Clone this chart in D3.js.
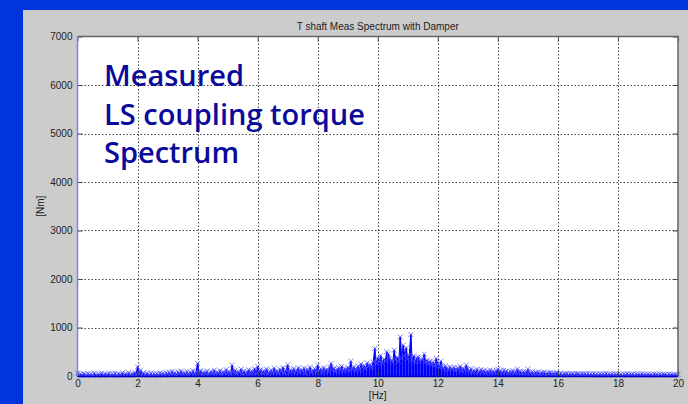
<!DOCTYPE html>
<html>
<head>
<meta charset="utf-8">
<script src="https://cdn.jsdelivr.net/npm/d3@7"></script>
<style>
  body { margin: 0; background: #0035dd; }
  svg { display: block; }
</style>
</head>
<body>
<svg></svg>
<script>
// chart size
const width = 688,
      height = 404;

// spectrum, one row per Hz, 0.05 Hz step
const freqStep = 0.05;
const torque = [
  60,20,45,10,55,30,15,50,25,40,12,58,35,18,48,22,62,8,44,28,        // 0-1
  30,55,15,48,25,60,12,42,35,20,65,18,50,28,70,10,45,38,80,25,       // 1-2
  190,60,120,35,70,20,55,40,25,60,15,50,30,45,20,65,35,55,25,70,     // 2-3
  40,80,30,95,45,70,20,85,50,100,35,75,40,90,25,80,55,110,45,90,     // 3-4
  260,70,110,40,85,60,100,30,75,95,50,120,40,85,65,110,35,90,70,130, // 4-5
  60,100,45,225,80,120,50,95,70,140,40,105,65,85,130,55,110,75,150,60, // 5-6
  200,90,130,60,115,80,145,50,100,125,70,160,85,110,55,140,95,175,65,120, // 6-7
  230,80,130,95,150,60,120,170,75,135,100,160,55,140,115,180,70,125,150,90, // 7-8
  225,110,150,80,170,120,140,95,185,260,130,160,90,145,175,115,200,105,155,130, // 8-9
  180,120,307,140,190,110,165,210,130,250,180,220,150,270,200,240,180,290,567,260, // 9-10
  380,300,420,260,350,310,500,465,360,330,280,533,340,390,300,806,370,636,420,580, // 10-11
  350,430,855,320,416,290,380,396,300,340,350,451,280,330,260,310,240,290,220,363, // 11-12
  250,180,307,200,150,210,170,130,190,160,140,180,120,170,150,200,110,160,130,225, // 12-13
  140,100,150,80,120,95,140,70,110,130,85,120,60,105,90,125,70,100,80,115, // 13-14
  144,90,110,70,120,85,100,65,95,80,110,70,85,144,75,100,60,90,70,85,  // 14-15
  144,80,60,90,50,75,65,85,45,70,60,80,40,65,55,75,45,60,50,70,      // 15-16
  55,35,60,30,50,40,55,25,45,35,50,30,55,40,45,25,50,35,45,30,       // 16-17
  50,28,45,20,52,30,40,18,48,25,42,30,55,22,38,28,46,20,40,32,       // 17-18
  45,25,38,15,42,28,50,20,35,30,44,18,40,26,36,22,48,24,38,20,       // 18-19
  40,22,35,15,45,25,32,18,42,20,38,28,30,16,40,24,34,20,36,18,       // 19-20
  30
];

const xTicks = [0, 2, 4, 6, 8, 10, 12, 14, 16, 18, 20],
      yTicks = [0, 1000, 2000, 3000, 4000, 5000, 6000, 7000];

const titleText = 'T shaft Meas Spectrum with Damper',
      xLabel = '[Hz]',
      yLabel = '[Nm]',
      overlayLines = ['Measured', 'LS coupling torque', 'Spectrum'];

const data = torque.map((v, i) => ({ f: i * freqStep, v: v }));

const svg = d3.select('svg')
              .attr('width', width)
              .attr('height', height);

// matlab figure background
svg.append('rect')
   .attr('x', 23).attr('y', 10)
   .attr('width', width - 23).attr('height', height - 10)
   .attr('fill', '#cccccc');

const xscale = d3.scaleLinear().domain([0, 20]).range([77.5, 678]);
const yscale = d3.scaleLinear().domain([0, 7000]).range([376, 36.5]);

// plot area
svg.append('rect')
   .attr('x', xscale(0)).attr('y', yscale(7000))
   .attr('width', xscale(20) - xscale(0))
   .attr('height', yscale(0) - yscale(7000))
   .attr('fill', '#ffffff');

// grid
const grid = svg.append('g').attr('id', 'grid')
                .attr('stroke', '#444').attr('stroke-width', 1)
                .attr('stroke-dasharray', '1.5,2');
grid.selectAll('.vgrid')
    .data(xTicks.slice(1, -1))
    .enter().append('line')
    .attr('x1', d => Math.round(xscale(d)) + 0.5)
    .attr('x2', d => Math.round(xscale(d)) + 0.5)
    .attr('y1', yscale(7000)).attr('y2', yscale(0));
grid.selectAll('.hgrid')
    .data(yTicks.slice(1, -1))
    .enter().append('line')
    .attr('y1', d => Math.round(yscale(d)) + 0.5)
    .attr('y2', d => Math.round(yscale(d)) + 0.5)
    .attr('x1', xscale(0)).attr('x2', xscale(20));

// big overlay text
const overlay = svg.append('text')
   .attr('font-family', '"Open Sans", sans-serif')
   .attr('font-weight', 600)
   .attr('font-size', '29px')
   .attr('fill', '#0a0a9a');
overlay.selectAll('tspan')
   .data(overlayLines)
   .enter().append('tspan')
   .attr('x', 104)
   .attr('y', (d, i) => 86 + i * 38.5)
   .text(d => d);

// spectrum: dense stems, connecting line, x markers
const plot = svg.append('g').attr('id', 'spectrum');

plot.selectAll('.stem')
    .data(data)
    .enter().append('line')
    .attr('class', 'stem')
    .attr('x1', d => xscale(d.f)).attr('x2', d => xscale(d.f))
    .attr('y1', yscale(0)).attr('y2', d => yscale(d.v))
    .attr('stroke', '#0000ff')
    .attr('stroke-width', 1.6);

const lineFunction = d3.line()
    .x(d => xscale(d.f))
    .y(d => yscale(d.v));

plot.append('path')
    .attr('d', lineFunction(data))
    .attr('fill', 'none')
    .attr('stroke', '#0000ff')
    .attr('stroke-width', 1);

plot.selectAll('.mark')
    .data(data)
    .enter().append('path')
    .attr('class', 'mark')
    .attr('d', d => {
      const x = xscale(d.f), y = yscale(d.v), s = 2.5;
      return `M${x - s},${y - s}L${x + s},${y + s}M${x - s},${y + s}L${x + s},${y - s}`;
    })
    .attr('stroke', '#5050ff')
    .attr('stroke-width', 0.9)
    .attr('opacity', 0.8);

// axes, matlab style: ticks inward on all four sides
const x_axis = d3.axisBottom(xscale).tickValues(xTicks).tickSize(-5).tickPadding(4);
const y_axis = d3.axisLeft(yscale).tickValues(yTicks).tickSize(-5)
                 .tickPadding(5).tickFormat(d3.format('d'));

function styleAxis(g) {
  g.select('.domain').remove();
  g.selectAll('line').attr('stroke', '#444');
  g.selectAll('text')
   .attr('font-family', '"Liberation Sans", Arial, sans-serif')
   .attr('font-size', '10px')
   .attr('fill', '#222');
}

svg.append('g')
   .attr('transform', 'translate(0,' + yscale(0) + ')')
   .call(x_axis).call(styleAxis);
svg.append('g')
   .attr('transform', 'translate(' + xscale(0) + ',0)')
   .call(y_axis).call(styleAxis);
svg.append('g')
   .attr('transform', 'translate(0,' + yscale(7000) + ')')
   .call(d3.axisTop(xscale).tickValues(xTicks).tickSize(-5).tickFormat(''))
   .call(styleAxis);
svg.append('g')
   .attr('transform', 'translate(' + xscale(20) + ',0)')
   .call(d3.axisRight(yscale).tickValues(yTicks).tickSize(-5).tickFormat(''))
   .call(styleAxis);

// box
svg.append('path')
   .attr('d', `M${xscale(0)},${yscale(7000)}H${xscale(20)}V${yscale(0)}`)
   .attr('fill', 'none').attr('stroke', '#666').attr('stroke-width', 1.5);
svg.append('line')
   .attr('x1', xscale(0)).attr('x2', xscale(0))
   .attr('y1', yscale(7000)).attr('y2', yscale(0))
   .attr('stroke', '#8080e8').attr('stroke-width', 1.5);
svg.append('line')
   .attr('x1', xscale(0)).attr('x2', xscale(20))
   .attr('y1', yscale(0) + 0.5).attr('y2', yscale(0) + 0.5)
   .attr('stroke', '#0000c0').attr('stroke-width', 1.5);

// labels
svg.append('text')
   .attr('x', (xscale(0) + xscale(20)) / 2)
   .attr('y', 30)
   .attr('text-anchor', 'middle')
   .attr('font-family', '"Liberation Sans", Arial, sans-serif')
   .attr('font-size', '10px')
   .attr('fill', '#222')
   .text(titleText);

svg.append('text')
   .attr('x', (xscale(0) + xscale(20)) / 2)
   .attr('y', 399)
   .attr('text-anchor', 'middle')
   .attr('font-family', '"Liberation Sans", Arial, sans-serif')
   .attr('font-size', '10px')
   .attr('fill', '#222')
   .text(xLabel);

svg.append('text')
   .attr('transform', 'translate(44,' + (yscale(0) + yscale(7000)) / 2 + ') rotate(-90)')
   .attr('text-anchor', 'middle')
   .attr('font-family', '"Liberation Sans", Arial, sans-serif')
   .attr('font-size', '10px')
   .attr('fill', '#222')
   .text(yLabel);
</script>
</body>
</html>
